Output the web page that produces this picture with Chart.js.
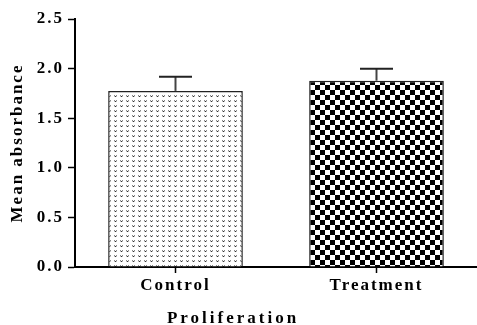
<!DOCTYPE html>
<html>
<head>
<meta charset="utf-8">
<script src="https://cdn.jsdelivr.net/npm/chart.js@4"></script>
<style>
  html, body { margin: 0; padding: 0; background: #fff; }
  #wrap { width: 477px; height: 325px; }
</style>
</head>
<body>
<div id="wrap"><canvas id="prolifChart"></canvas></div>
<script>
const labels = ['Control', 'Treatment'];
const means = [1.775, 1.878];
const sdUp = [0.143, 0.121];
const yTicks = [0, 0.5, 1.0, 1.5, 2.0, 2.5];
const xTitle = 'Proliferation';

const serif = '"Liberation Serif", "Times New Roman", serif';

// dotted "v" pattern for Control
function dotPattern() {
  const c = document.createElement('canvas');
  c.width = 6; c.height = 5;
  const g = c.getContext('2d');
  g.fillStyle = '#fff';
  g.fillRect(0, 0, 6, 5);
  g.fillStyle = '#8a8a8a';
  g.fillRect(0, 0, 1, 1);
  g.fillRect(2, 0, 1, 1);
  g.fillStyle = '#c4c4c4';
  g.fillRect(0, 1, 1, 1);
  g.fillRect(2, 1, 1, 1);
  g.fillStyle = '#333';
  g.fillRect(1, 1, 1, 1);
  return g.createPattern(c, 'repeat');
}

// checkerboard for Treatment
function checkPattern() {
  const c = document.createElement('canvas');
  c.width = 10; c.height = 10;
  const g = c.getContext('2d');
  g.fillStyle = '#fff';
  g.fillRect(0, 0, 10, 10);
  g.fillStyle = '#000';
  g.fillRect(0, 0, 5, 5);
  g.fillRect(5, 5, 5, 5);
  return g.createPattern(c, 'repeat');
}

// spaced lettering like the original
const spacing = {
  id: 'spacing',
  beforeUpdate(chart) { chart.ctx.letterSpacing = '2px'; },
  beforeLayout(chart) { chart.ctx.letterSpacing = '2px'; },
  beforeDraw(chart) { chart.ctx.letterSpacing = '2px'; }
};

// upper error whiskers
const errorBars = {
  id: 'errorBars',
  afterDatasetsDraw(chart) {
    const ctx = chart.ctx;
    const meta = chart.getDatasetMeta(0);
    const y = chart.scales.y;
    ctx.save();
    meta.data.forEach((bar, i) => {
      const top = y.getPixelForValue(means[i]);
      const hi = y.getPixelForValue(means[i] + sdUp[i]);
      ctx.strokeStyle = '#444';
      ctx.lineWidth = 2;
      ctx.beginPath();
      ctx.moveTo(bar.x, top);
      ctx.lineTo(bar.x, hi);
      ctx.stroke();
      ctx.strokeStyle = '#222';
      ctx.beginPath();
      ctx.moveTo(bar.x - 16.5, hi);
      ctx.lineTo(bar.x + 16.5, hi);
      ctx.stroke();
    });
    ctx.restore();
  }
};

// x axis title, a bit left of centre and wider spaced as in the original
const bottomTitle = {
  id: 'bottomTitle',
  afterDraw(chart) {
    const ctx = chart.ctx;
    ctx.save();
    ctx.letterSpacing = '3px';
    ctx.font = 'bold 17px ' + serif;
    ctx.fillStyle = '#000';
    ctx.textAlign = 'center';
    ctx.textBaseline = 'middle';
    ctx.fillText(xTitle, 233, 319);
    ctx.restore();
  }
};

const config = {
  type: 'bar',
  data: {
    labels,
    datasets: [{
      data: means,
      backgroundColor: [dotPattern(), checkPattern()],
      borderColor: '#222',
      borderWidth: 1.5,
      categoryPercentage: 1,
      barPercentage: 0.67
    }]
  },
  options: {
    responsive: true,
    maintainAspectRatio: false,
    animation: false,
    layout: { padding: { top: 19, left: 0, right: 0, bottom: 0 } },
    plugins: {
      legend: { display: false },
      tooltip: { enabled: false }
    },
    scales: {
      x: {
        afterFit(s) { s.height = 58; },
        grid: { display: true, drawOnChartArea: false, offset: false, tickLength: 6, tickColor: '#000', tickWidth: 1.5 },
        border: { color: '#000', width: 2 },
        ticks: { color: '#000', padding: 2, font: { family: serif, size: 17, weight: 'bold' } }
      },
      y: {
        min: 0,
        max: 2.5,
        afterFit(s) { s.width = 75; },
        afterBuildTicks(s) { s.ticks = yTicks.map(v => ({ value: v })); },
        grid: { display: true, drawOnChartArea: false, tickLength: 7, tickColor: '#000', tickWidth: 1.5 },
        border: { color: '#000', width: 2 },
        ticks: {
          color: '#000',
          padding: 4,
          font: { family: serif, size: 17, weight: 'bold' },
          callback: v => v.toFixed(1)
        },
        title: {
          display: true,
          text: 'Mean absorbance',
          color: '#000',
          font: { family: serif, size: 17, weight: 'bold' },
          padding: { top: 7, bottom: 0 }
        }
      }
    }
  },
  plugins: [spacing, errorBars, bottomTitle]
};

const prolifChart = new Chart(document.getElementById('prolifChart'), config);
</script>
</body>
</html>
